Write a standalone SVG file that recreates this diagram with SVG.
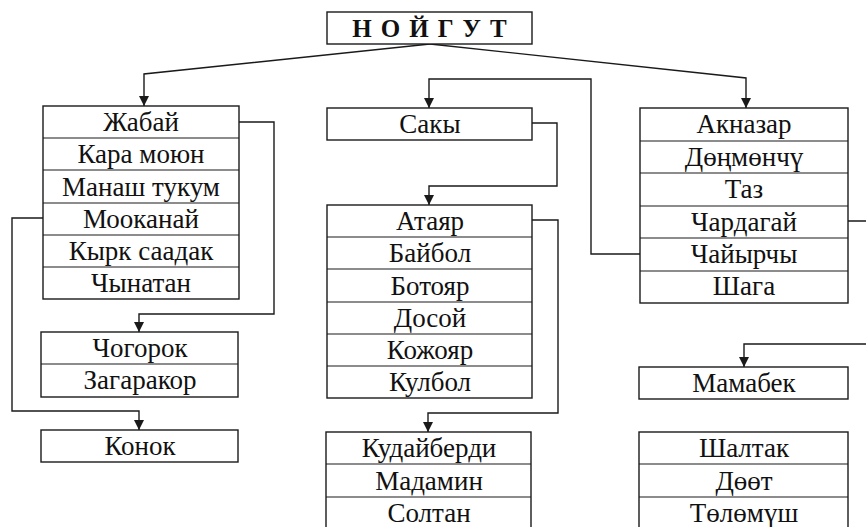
<svg xmlns="http://www.w3.org/2000/svg" width="866" height="527" viewBox="0 0 866 527">
<defs>
<style>
.b{fill:#fff;stroke:#1a1a1a;stroke-width:1.4}
.d{stroke:#1a1a1a;stroke-width:1.2}
.t{font-family:"Liberation Serif","Times New Roman",serif;font-size:27px;fill:#111;text-anchor:middle}
.h{font-family:"Liberation Serif","Times New Roman",serif;font-size:25px;font-weight:bold;fill:#111;text-anchor:middle;letter-spacing:9px}
.c{fill:none;stroke:#1a1a1a;stroke-width:1.4}
</style>
<marker id="m" markerUnits="userSpaceOnUse" markerWidth="10" markerHeight="11" refX="10" refY="5" orient="auto" viewBox="0 0 10 10">
<path d="M0,0 L10,5 L0,10 Z" fill="#1a1a1a"/>
</marker>
</defs>
<rect width="866" height="527" fill="#fff"/>

<g id="connectors">
<path class="c" d="M430,44 L144,74 V106" marker-end="url(#m)"/>
<path class="c" d="M430,44 L746,78 V108" marker-end="url(#m)"/>
<path class="c" d="M640,254 H591 V79 H429 V108" marker-end="url(#m)"/>
<path class="c" d="M532,123 H557 V186 H429 V205" marker-end="url(#m)"/>
<path class="c" d="M532,220 H558 V413 H428 V432" marker-end="url(#m)"/>
<path class="c" d="M239,122 H274 V314 H139 V332" marker-end="url(#m)"/>
<path class="c" d="M43,218 H12 V411 H139 V430" marker-end="url(#m)"/>
<path class="c" d="M848,221 H875 V344 H744 V367" marker-end="url(#m)"/>
</g>

<g id="noygut">
<rect class="b" x="327" y="12" width="205" height="32"/>
<text class="h" x="434" y="37">НОЙГУТ</text>
</g>

<g id="jabay">
<rect class="b" x="43" y="106" width="196" height="193"/>
<line class="d" x1="43" y1="138" x2="239" y2="138"/>
<line class="d" x1="43" y1="170" x2="239" y2="170"/>
<line class="d" x1="43" y1="203" x2="239" y2="203"/>
<line class="d" x1="43" y1="235" x2="239" y2="235"/>
<line class="d" x1="43" y1="267" x2="239" y2="267"/>
<text class="t" x="141" y="131">Жабай</text>
<text class="t" x="141" y="163">Кара моюн</text>
<text class="t" x="141" y="196">Манаш тукум</text>
<text class="t" x="141" y="228">Мооканай</text>
<text class="t" x="141" y="260">Кырк саадак</text>
<text class="t" x="141" y="292">Чынатан</text>
</g>

<g id="chogorok">
<rect class="b" x="41" y="332" width="197" height="65"/>
<line class="d" x1="41" y1="364" x2="238" y2="364"/>
<text class="t" x="140" y="357">Чогорок</text>
<text class="t" x="140" y="389">Загаракор</text>
</g>

<g id="konok">
<rect class="b" x="41" y="430" width="197" height="32"/>
<text class="t" x="140" y="455">Конок</text>
</g>

<g id="saky">
<rect class="b" x="327" y="108" width="205" height="32"/>
<text class="t" x="430" y="133">Сакы</text>
</g>

<g id="atayar">
<rect class="b" x="327" y="205" width="205" height="193"/>
<line class="d" x1="327" y1="237" x2="532" y2="237"/>
<line class="d" x1="327" y1="269" x2="532" y2="269"/>
<line class="d" x1="327" y1="302" x2="532" y2="302"/>
<line class="d" x1="327" y1="334" x2="532" y2="334"/>
<line class="d" x1="327" y1="366" x2="532" y2="366"/>
<text class="t" x="430" y="230">Атаяр</text>
<text class="t" x="430" y="262">Байбол</text>
<text class="t" x="430" y="295">Ботояр</text>
<text class="t" x="430" y="327">Досой</text>
<text class="t" x="430" y="359">Кожояр</text>
<text class="t" x="430" y="391">Кулбол</text>
</g>

<g id="kudayberdi">
<rect class="b" x="326" y="432" width="205" height="100"/>
<line class="d" x1="326" y1="464" x2="531" y2="464"/>
<line class="d" x1="326" y1="497" x2="531" y2="497"/>
<text class="t" x="429" y="457">Кудайберди</text>
<text class="t" x="429" y="490">Мадамин</text>
<text class="t" x="429" y="522">Солтан</text>
</g>

<g id="aknazar">
<rect class="b" x="640" y="108" width="208" height="195"/>
<line class="d" x1="640" y1="141" x2="848" y2="141"/>
<line class="d" x1="640" y1="173" x2="848" y2="173"/>
<line class="d" x1="640" y1="206" x2="848" y2="206"/>
<line class="d" x1="640" y1="238" x2="848" y2="238"/>
<line class="d" x1="640" y1="271" x2="848" y2="271"/>
<text class="t" x="744" y="133">Акназар</text>
<text class="t" x="744" y="166">Дөңмөнчү</text>
<text class="t" x="744" y="198">Таз</text>
<text class="t" x="744" y="231">Чардагай</text>
<text class="t" x="744" y="263">Чайырчы</text>
<text class="t" x="744" y="295">Шага</text>
</g>

<g id="mamabek">
<rect class="b" x="639" y="367" width="209" height="32"/>
<text class="t" x="744" y="392">Мамабек</text>
</g>

<g id="shaltak">
<rect class="b" x="639" y="432" width="209" height="100"/>
<line class="d" x1="639" y1="464" x2="848" y2="464"/>
<line class="d" x1="639" y1="497" x2="848" y2="497"/>
<text class="t" x="744" y="457">Шалтак</text>
<text class="t" x="744" y="490">Дөөт</text>
<text class="t" x="744" y="522">Төлөмүш</text>
</g>
</svg>
